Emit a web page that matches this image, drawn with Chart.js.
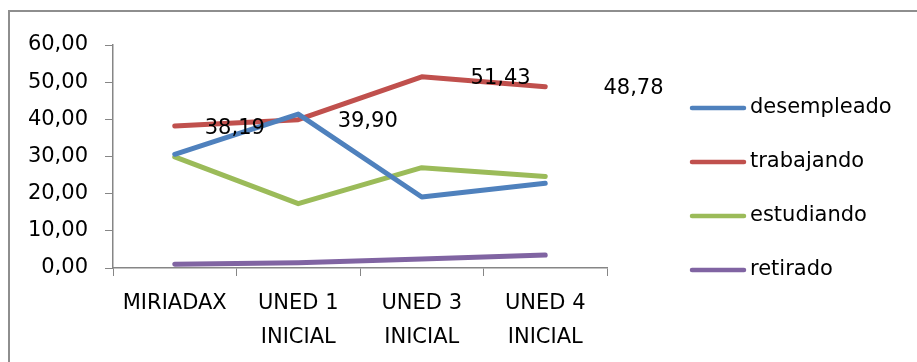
<!DOCTYPE html>
<html>
<head>
<meta charset="utf-8">
<script src="https://cdn.jsdelivr.net/npm/chart.js@4/dist/chart.umd.min.js"></script>
<style>
  html, body { margin: 0; padding: 0; background: #ffffff; }
  #wrap { position: relative; width: 917px; height: 362px; overflow: hidden; }
  #cadre { position: absolute; left: 8px; top: 10px; width: 1000px; height: 1000px;
           border-left: 2px solid #8e8e8e; border-top: 2px solid #8e8e8e; }
  #myChart { position: absolute; left: 0; top: 0; }
</style>
</head>
<body>
<div id="wrap">
  <div id="cadre"></div>
  <canvas id="myChart" width="917" height="362"></canvas>
</div>
<script>
// Données
const categories = [['MIRIADAX'], ['UNED 1', 'INICIAL'], ['UNED 3', 'INICIAL'], ['UNED 4', 'INICIAL']];
const desempleado = [30.6, 41.4, 19.1, 22.8];
const trabajando = [38.19, 39.90, 51.43, 48.78];
const estudiando = [29.9, 17.3, 27.0, 24.6];
const retirado = [1.0, 1.4, 2.4, 3.5];
const yTicks = [0, 10, 20, 30, 40, 50, 60];

const couleurs = ['#4F81BD', '#C0504D', '#9BBB59', '#8064A2'];
const police = 'DejaVu Sans';

function serie(label, data, color) {
    return {
        label: label,
        data: data,
        borderColor: color,
        backgroundColor: color,
        borderWidth: 5,
        borderCapStyle: 'round',
        borderJoinStyle: 'round',
        pointRadius: 0,
        tension: 0
    };
}

// étiquettes de valeurs pour la série "trabajando"
const etiquettes = {
    id: 'etiquettes',
    afterDatasetsDraw(chart) {
        const ctx = chart.ctx;
        const meta = chart.getDatasetMeta(1);
        ctx.save();
        ctx.font = '21px "' + police + '"';
        ctx.fillStyle = '#000000';
        ctx.textAlign = 'left';
        ctx.textBaseline = 'middle';
        meta.data.forEach((pt, i) => {
            const v = chart.data.datasets[1].data[i];
            ctx.fillText(v.toFixed(2).replace('.', ','), pt.x + 30 + 9.4 * i, pt.y + 2);
        });
        ctx.restore();
    }
};

// légende dessinée à la main
const legende = {
    id: 'legende',
    afterDraw(chart) {
        const ctx = chart.ctx;
        ctx.save();
        ctx.font = '21px "' + police + '"';
        ctx.textBaseline = 'middle';
        chart.data.datasets.forEach((ds, i) => {
            const y = 108 + i * 54;
            ctx.strokeStyle = ds.borderColor;
            ctx.lineWidth = 4.5;
            ctx.lineCap = 'round';
            ctx.beginPath();
            ctx.moveTo(692, y);
            ctx.lineTo(744, y);
            ctx.stroke();
            ctx.fillStyle = '#000000';
            ctx.fillText(ds.label, 750, y);
        });
        ctx.restore();
    }
};

const config = {
    type: 'line',
    data: {
        labels: categories,
        datasets: [
            serie('desempleado', desempleado, couleurs[0]),
            serie('trabajando', trabajando, couleurs[1]),
            serie('estudiando', estudiando, couleurs[2]),
            serie('retirado', retirado, couleurs[3])
        ]
    },
    options: {
        responsive: false,
        animation: false,
        layout: { padding: { left: 0, top: 45, right: 310, bottom: 0 } },
        scales: {
            x: {
                offset: true,
                grid: { offset: true, drawOnChartArea: false, color: '#868686', tickLength: 8 },
                border: { color: '#868686', width: 1.5 },
                ticks: {
                    color: '#000000',
                    padding: 11,
                    maxRotation: 0,
                    autoSkip: false,
                    font: { family: police, size: 21, lineHeight: 1.6 }
                },
                afterFit: (scale) => { scale.height = 362 - 268; }
            },
            y: {
                min: 0,
                max: 60,
                afterBuildTicks: (scale) => { scale.ticks = yTicks.map(v => ({ value: v })); },
                grid: { drawOnChartArea: false, color: '#868686', tickLength: 8 },
                border: { color: '#868686', width: 1.5 },
                ticks: {
                    color: '#000000',
                    padding: 17,
                    font: { family: police, size: 21 },
                    callback: (v) => Number(v).toFixed(2).replace('.', ',')
                },
                afterFit: (scale) => { scale.width = 113; }
            }
        },
        plugins: {
            legend: { display: false },
            tooltip: { enabled: false }
        }
    },
    plugins: [etiquettes, legende]
};

new Chart(document.getElementById('myChart').getContext('2d'), config);
</script>
</body>
</html>
